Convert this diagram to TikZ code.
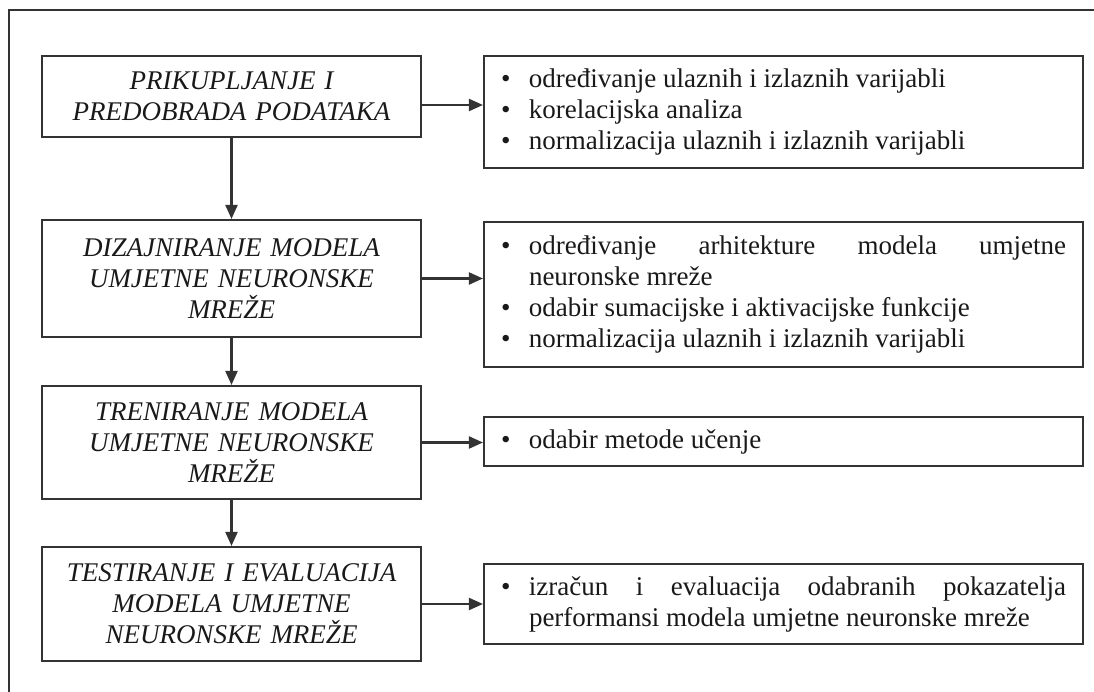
\documentclass[tikz,border=0pt]{standalone}
\usepackage{fontspec}
\setmainfont{Liberation Serif}
\usetikzlibrary{arrows.meta}
\definecolor{linegray}{HTML}{333333}
\hyphenpenalty=10000
\exhyphenpenalty=10000
% justified block of bullet lines for the right-hand boxes
\newcommand{\opisi}[1]{\parbox{565pt}{\leftskip=0pt\rightskip=0pt\parfillskip=0pt plus 1fil\relax
  \tolerance=9999\relax\hbadness=10000\relax\emergencystretch=4em\relax #1}}
% one bullet line of a right-hand box
\newcommand{\stavka}[1]{\hangindent=28pt\hangafter=1\noindent\makebox[28pt][l]{\textbullet}#1\par}

\begin{document}
\begin{tikzpicture}[x=1pt,y=-1pt,
  korak/.style={draw=linegray,line width=2.1pt,minimum width=379pt,inner sep=0pt,
    text width=360pt,align=center,text=black!90,
    font=\fontsize{27}{31}\selectfont\itshape},
  opis/.style={draw=linegray,line width=2.1pt,minimum width=599pt,inner xsep=17pt,
    inner ysep=0pt,text=black!90,font=\fontsize{27}{31}\selectfont},
  strelica/.style={line width=2.1pt,draw=linegray,-{Triangle[length=14pt,width=12pt]}}]
\useasboundingbox (0,0) rectangle (1094,692);
% Outer frame (open to the right and to the bottom)
\draw[line width=1.6pt,linegray] (9,692) -- (9,10) -- (1094,10);
% Steps on the left
\node[korak,minimum height=81pt] (prikupljanje) at (231.5,96.5) {PRIKUPLJANJE I\\PREDOBRADA PODATAKA};
\node[korak,minimum height=117pt] (dizajn) at (231.5,278.5) {DIZAJNIRANJE MODELA\\UMJETNE NEURONSKE\\MREŽE};
\node[korak,minimum height=113pt] (trening) at (231.5,442.5) {TRENIRANJE MODELA\\UMJETNE NEURONSKE\\MREŽE};
\node[korak,minimum height=114pt] (testiranje) at (231.5,604) {TESTIRANJE I EVALUACIJA\\MODELA UMJETNE\\NEURONSKE MREŽE};
% Descriptions on the right
\node[opis,minimum height=112pt] (opis1) at (783.5,112) {\opisi{\stavka{određivanje ulaznih i izlaznih varijabli}\stavka{korelacijska analiza}\stavka{normalizacija ulaznih i izlaznih varijabli}}};
\node[opis,minimum height=145pt] (opis2) at (783.5,294.5) {\opisi{\stavka{određivanje arhitekture modela umjetne neuronske mreže}\stavka{odabir sumacijske i aktivacijske funkcije}\stavka{normalizacija ulaznih i izlaznih varijabli}}};
\node[opis,minimum height=49pt] (opis3) at (783.5,441.5) {\opisi{\stavka{odabir metode učenje}}};
\node[opis,minimum height=80pt] (opis4) at (783.5,604) {\opisi{\stavka{izračun i evaluacija odabranih pokazatelja performansi modela umjetne neuronske mreže}}};
% Flow downwards
\draw[strelica] (prikupljanje.south) -- (dizajn.north);
\draw[strelica] (dizajn.south) -- (trening.north);
\draw[strelica] (trening.south) -- (testiranje.north);
% Flow to the right
\draw[strelica] ([yshift=-8.5pt]prikupljanje.east) -- ([yshift=-8.5pt]prikupljanje.east -| opis1.west);
\draw[strelica] (dizajn.east) -- (dizajn.east -| opis2.west);
\draw[strelica] (trening.east) -- (trening.east -| opis3.west);
\draw[strelica] (testiranje.east) -- (testiranje.east -| opis4.west);
\end{tikzpicture}
\end{document}
